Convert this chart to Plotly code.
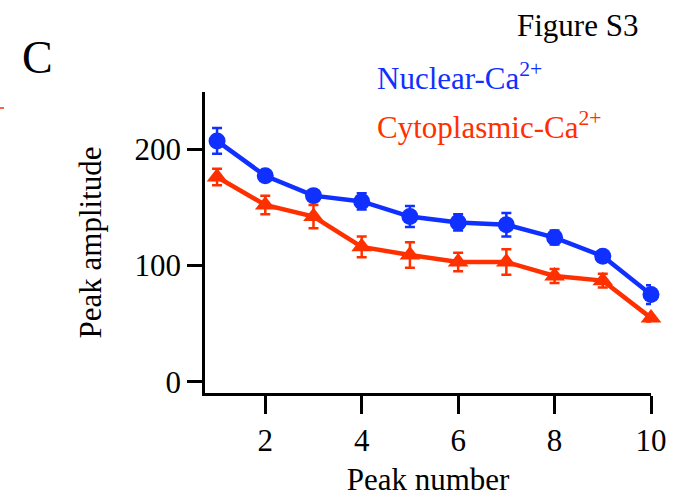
import plotly.graph_objects as go

# Peak index along the recording
peak_number = [1, 2, 3, 4, 5, 6, 7, 8, 9, 10]

# Mean peak amplitude and error for nuclear Ca2+
nuclear_mean = [207, 177, 160, 155, 142, 137, 135, 124, 108, 75]
nuclear_err = [11, 4, 4, 7, 9, 7, 10, 6, 3, 8]

# Mean peak amplitude and error for cytoplasmic Ca2+
cyto_mean = [176, 152, 142, 116, 109, 103, 103, 91, 87, 55]
cyto_err = [7, 8, 10, 9, 11, 8, 11, 6, 6, 3]

y_ticks = [0, 100, 200]
x_ticks = [2, 4, 6, 8, 10]

BLUE = "#1030ff"
RED = "#ff3000"
FONT = "Liberation Serif"

fig = go.Figure()

fig.add_trace(go.Scatter(
    x=peak_number, y=nuclear_mean,
    mode="lines+markers",
    line=dict(color=BLUE, width=4.5),
    marker=dict(symbol="circle", size=17, color=BLUE),
    error_y=dict(type="data", array=nuclear_err, color=BLUE, thickness=2.5, width=5),
    cliponaxis=False, showlegend=False,
))

fig.add_trace(go.Scatter(
    x=peak_number, y=cyto_mean,
    mode="lines+markers",
    line=dict(color=RED, width=4.5),
    marker=dict(symbol="triangle-up", size=18, color=RED),
    error_y=dict(type="data", array=cyto_err, color=RED, thickness=2.5, width=5),
    cliponaxis=False, showlegend=False,
))

fig.update_xaxes(
    range=[0.75, 10], tickvals=x_ticks, ticks="outside", ticklen=18, tickwidth=2.5,
    tickcolor="black", showline=True, linecolor="black", linewidth=2.5,
    showgrid=False, zeroline=False, automargin=False,
    tickfont=dict(family=FONT, size=31, color="black"),
    title=dict(text="Peak number", font=dict(family=FONT, size=31, color="black"), standoff=14),
)
fig.update_yaxes(
    range=[-9.5, 249], tickvals=y_ticks, ticks="outside", ticklen=15, tickwidth=2.5,
    tickcolor="black", showline=True, linecolor="black", linewidth=2.5,
    showgrid=False, zeroline=False, automargin=False,
    tickfont=dict(family=FONT, size=31, color="black"),
    title=dict(text="Peak amplitude", font=dict(family=FONT, size=31, color="black"), standoff=24),
)

W, H = 675, 497
pl, pr, pt, pb = 205, 24, 92, 104
pw, ph = W - pl - pr, H - pt - pb

# Panel letter, figure label and coloured series labels (pixel positions)
labels = [
    ("C", 20, 57, 46, "black"),
    ("Figure S3", 515, 26, 31, "black"),
    ("Nuclear-Ca<sup>2+</sup>", 375, 76, 31, BLUE),
    ("Cytoplasmic-Ca<sup>2+</sup>", 375, 125, 31, RED),
]
for text, px, py, size, color in labels:
    fig.add_annotation(
        text=text, x=(px - pl) / pw, y=(H - pb - py) / ph, xref="paper", yref="paper",
        xanchor="left", yanchor="middle", showarrow=False,
        font=dict(family=FONT, size=size, color=color),
    )

# Fragment of a neighbouring panel's trace at the left edge
fig.add_shape(type="line", xref="paper", yref="paper",
              x0=(0 - pl) / pw, x1=(4 - pl) / pw,
              y0=(H - pb - 108) / ph, y1=(H - pb - 108) / ph,
              line=dict(color=RED, width=1.5))

fig.update_layout(
    width=W, height=H,
    margin=dict(l=pl, r=pr, t=pt, b=pb),
    plot_bgcolor="white", paper_bgcolor="white",
)

fig.write_html("out.html")
